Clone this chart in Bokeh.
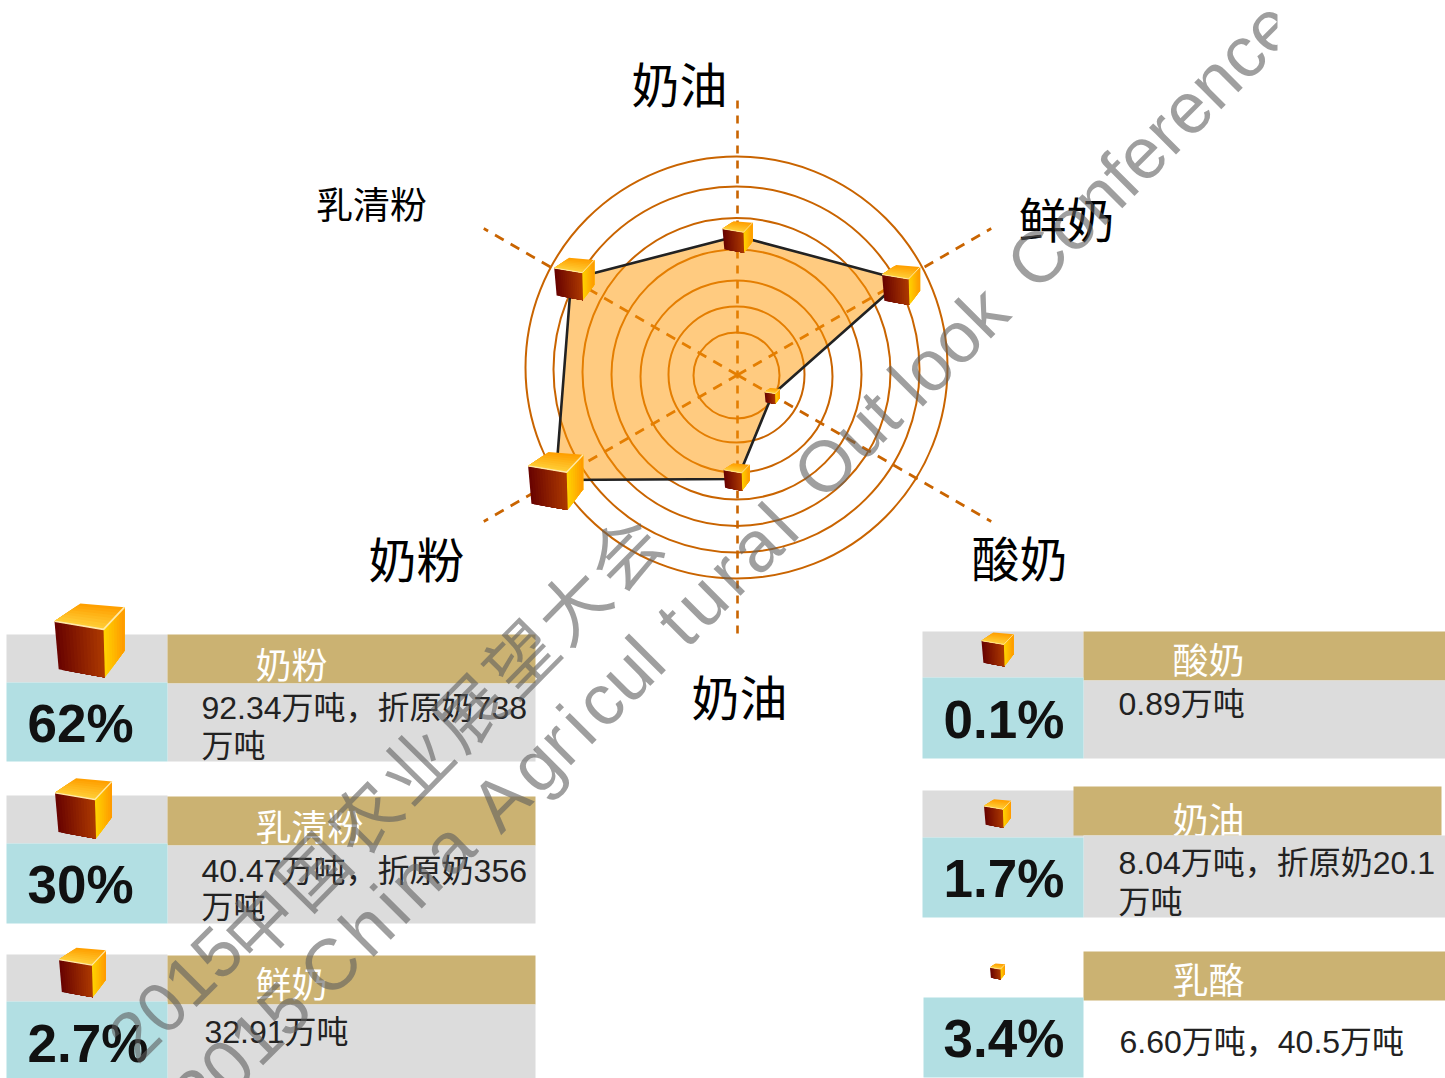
from bokeh.plotting import figure
from bokeh.models import Range1d
from bokeh.core.properties import value
from bokeh.embed import file_html
from bokeh.resources import INLINE
import math

# ---- data ----
spoke_labels = ["奶油", "鲜奶", "酸奶", "奶油", "奶粉", "乳清粉"]
radar_values = [139, 190, 40, 104, 210, 192]
cube_sizes = [30, 38, 15, 26, 55, 40]
ring_radii = [43, 68, 96, 125, 154, 183, 211]
ring_cy = [375, 374, 376, 374, 371.5, 369, 367]

names = ["奶粉", "乳清粉", "鲜奶", "酸奶", "奶油", "乳酪"]
pcts = ["62%", "30%", "2.7%", "0.1%", "1.7%", "3.4%"]
details1 = ["92.34万吨，折原奶738", "40.47万吨，折原奶356", "32.91万吨", "0.89万吨", "8.04万吨，折原奶20.1", "6.60万吨，40.5万吨"]
details2 = ["万吨", "万吨", "", "", "万吨", ""]
legend_cube = [70, 57, 47, 32, 27, 15]

GOLD, GREY, TEAL = "#CBB272", "#DCDCDC", "#B2DFE3"
ORANGE = "#C96400"
LATIN_CJK = "Liberation Sans, Noto Sans CJK SC"
CJK = "Noto Sans CJK SC"

p = figure(width=1445, height=1078, x_range=Range1d(0, 1445), y_range=Range1d(1078, 0),
           output_backend="svg", toolbar_location=None, min_border=0)
p.axis.visible = False
p.grid.visible = False
p.outline_line_color = None
p.background_fill_color = "white"

def rect(x0, x1, y0, y1, c):
    p.quad(left=x0, right=x1, top=y0, bottom=y1, fill_color=c, line_color=None)

def lerp(a, b, t):
    return a + (b - a) * t

def hexlerp(c1, c2, t):
    a = [int(c1[i:i+2], 16) for i in (1, 3, 5)]
    b = [int(c2[i:i+2], 16) for i in (1, 3, 5)]
    return "#%02x%02x%02x" % tuple(round(lerp(u, v, t)) for u, v in zip(a, b))

def cube(cx, cy, s):
    h = s * 74 / 70
    x0, y0 = cx - s / 2, cy - h / 2
    P = lambda u, v: (x0 + u * s, y0 + v * h)
    faces = [
        ((0, .24), (.70, .35), (.72, 1.0), (.06, .89), "#6a0400", "#b03c00", 14),
        ((.70, .35), (1, .05), (1, .64), (.72, 1.0), "#ffd000", "#ff9400", 8),
    ]
    xs, ys, cs = [], [], []
    for a, b, c, d, c1, c2, n in faces:
        for i in range(n):
            t0 = i / n
            q = [(lerp(a[0], b[0], t0), lerp(a[1], b[1], t0)), b, c, (lerp(d[0], c[0], t0), lerp(d[1], c[1], t0))]
            pts = [P(*k) for k in q]
            xs.append([k[0] for k in pts]); ys.append([k[1] for k in pts])
            cs.append(hexlerp(c1, c2, t0))
    a, b, c, d = (.37, 0), (1, .05), (.70, .35), (0, .24)
    n = 8
    for i in range(n):
        t0 = i / n
        q = [(lerp(a[0], d[0], t0), lerp(a[1], d[1], t0)), (lerp(b[0], c[0], t0), lerp(b[1], c[1], t0)), c, d]
        pts = [P(*k) for k in q]
        xs.append([k[0] for k in pts]); ys.append([k[1] for k in pts])
        cs.append(hexlerp("#ffa000", "#ffd23c", t0))
    p.patches(xs, ys, fill_color=cs, line_color=None)
    e = [P(0, .24), P(.70, .35), P(1, .05)]
    p.line([k[0] for k in e], [k[1] for k in e], line_color="#ffe9a8", line_width=max(0.8, s / 40))

# ---- radar ----
CX, CY = 737, 374.5
angles = [90, 30, -30, -90, -150, 150]
cube_offsets = [(0, 0), (-1, 4), (0, 0), (-1, -3), (0, 0), (3, -1)]
for r, cy in zip(ring_radii, ring_cy):
    p.ellipse(x=736, y=cy, width=2 * r, height=2 * r, fill_color=None, line_color=ORANGE, line_width=2)
p.line([737, 737], [100, 638], line_color=ORANGE, line_width=2.6, line_dash="8 7")
for a in (30, -30, -150, 150):
    p.line([CX, CX + 293 * math.cos(math.radians(a))], [CY, CY - 293 * math.sin(math.radians(a))],
           line_color=ORANGE, line_width=2.6, line_dash="10 8")
vx = [CX + v * math.cos(math.radians(a)) for v, a in zip(radar_values, angles)]
vy = [CY - v * math.sin(math.radians(a)) for v, a in zip(radar_values, angles)]
p.patch(vx, vy, fill_color="#FF9701", fill_alpha=0.5, line_color="#222222", line_width=2.6)
for x, y, s, o in zip(vx, vy, cube_sizes, cube_offsets):
    cube(x + o[0], y + 1 + o[1], s)

label_xy = [(679, 81, 48), (1066, 216, 48), (1019, 555, 48), (739, 694, 48), (416, 556, 48), (371, 202, 37)]
for t, (x, y, fs) in zip(spoke_labels, label_xy):
    p.text([x], [y], text=[t], text_font=value(CJK), text_font_size=f"{fs}px", text_color="#000000",
           text_align="center", text_baseline="middle")

layout = [
    (6, 167, 535, 634, 683, 682, 761, 167, 535, 634, True),
    (6, 167, 535, 795, 845, 843, 923, 167, 535, 796, True),
    (6, 167, 535, 954, 1004, 1001, 1078, 167, 535, 955, True),
    (922, 1083, 1445, 631, 680, 677, 758, 1083, 1445, 631, True),
    (922, 1083, 1445, 790, 835, 837, 917, 1073, 1441, 786, True),
    (923, 1083, 1445, 951, 1000, 997, 1077, 1083, 1445, 951, False),
]
text_pos = [
    (27, 723, 255, 662, 201, 707, 745, 89, 640),
    (27, 884, 255, 824, 201, 870, 906, 83, 808),
    (27, 1043, 255, 981, 204, 1031, 0, 82, 972),
    (943, 719, 1172, 657, 1118, 703, 0, 997, 649),
    (943, 878, 1172, 817, 1118, 862, 901, 997, 813),
    (943, 1038, 1172, 977, 1119, 1041, 0, 997, 971),
]
for i in range(6):
    xl, xs, xr, yt, ygb, ytt, yb, gx0, gx1, gt, grey = layout[i]
    px, pb, lx, ly, dx, dy1, dy2, qx, qy = text_pos[i]
    if grey:
        rect(xl, xs, yt, ytt, GREY)
    rect(gx0, gx1, gt, ygb, GOLD)
    p.text([lx], [ly], text=[names[i]], text_font=value(CJK), text_font_size="36px", text_color="#ffffff",
           text_align="left", text_baseline="middle")
    if grey:
        rect(xs, xr, ygb, yb, GREY)
    rect(xl, xs, ytt, yb, TEAL)
    p.text([px], [pb], text=[pcts[i]], text_font=value("Liberation Sans"), text_font_style="bold",
           text_font_size="53px", text_color="#111111", text_align="left", text_baseline="middle")
    p.text([dx], [dy1], text=[details1[i]], text_font=value(LATIN_CJK), text_font_size="32px",
           text_color="#222222", text_align="left", text_baseline="middle")
    if details2[i]:
        p.text([dx], [dy2], text=[details2[i]], text_font=value(LATIN_CJK), text_font_size="32px",
               text_color="#222222", text_align="left", text_baseline="middle")
    cube(qx, qy, legend_cube[i])

# ---- watermark ----
HAIR = "\u200a"
wm_words = ["2015", HAIR.join("China"), "A" + HAIR + "gr" + HAIR + "i" + HAIR + "cul", HAIR.join("tural"), "Out", "look", "Conference"]
wm_centers = [(241, 1051), (386, 908), (567, 733), (726, 574), (846, 444), (948, 345), (1150, 144)]
for w, (x, y) in zip(wm_words, wm_centers):
    p.text([x], [y], text=[w], angle=[45], angle_units="deg", text_font=value("Liberation Sans"),
           text_font_size="72px", text_color="#5f5f5f", text_alpha=0.6, text_align="center", text_baseline="middle")
p.text([175], [993], text=["2015"], angle=[45], angle_units="deg", text_font=value("Liberation Sans"),
       text_font_size="70px", text_color="#5f5f5f", text_alpha=0.6, text_align="center", text_baseline="middle")
p.text([439], [735], text=[HAIR.join("中国农业展望大会")], angle=[45.5], angle_units="deg", text_font=value(CJK),
       text_font_size="70px", text_color="#5f5f5f", text_alpha=0.6, text_align="center", text_baseline="middle")
rect(1277, 1330, 0, 75, "#ffffff")

open("out.html", "w").write(file_html(p, INLINE))
